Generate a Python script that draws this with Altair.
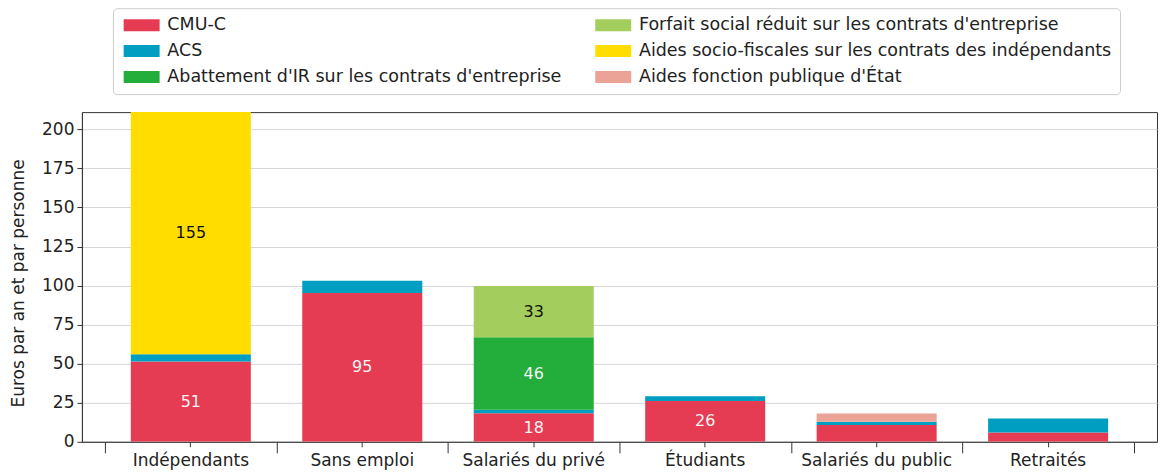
import altair as alt
import pandas as pd

categories = ["Indépendants", "Sans emploi", "Salariés du privé", "Étudiants",
              "Salariés du public", "Retraités"]
series = ["CMU-C", "ACS", "Abattement d'IR sur les contrats d'entreprise",
          "Forfait social réduit sur les contrats d'entreprise",
          "Aides socio-fiscales sur les contrats des indépendants",
          "Aides fonction publique d'État"]
colors = ["#e63c53", "#009fc2", "#23ae3b", "#a3cd5c", "#ffdd00", "#eba397"]

cmu_c = [51.4, 95.3, 18.3, 26.1, 10.7, 6.0]
acs = [4.7, 7.8, 2.2, 3.1, 2.1, 9.0]
abattement_ir = [0, 0, 46.4, 0, 0, 0]
forfait_social = [0, 0, 32.8, 0, 0, 0]
aides_independants = [155.0, 0, 0, 0, 0, 0]
aides_fonction_publique = [0, 0, 0, 0, 5.4, 0]

values = [cmu_c, acs, abattement_ir, forfait_social, aides_independants,
          aides_fonction_publique]

rows = []
for si, (name, vals) in enumerate(zip(series, values)):
    for cat, v in zip(categories, vals):
        if v > 0:
            rows.append({"cat": cat, "series": name, "value": v, "ord": si})
df = pd.DataFrame(rows)

FONT = "DejaVu Sans"
FS = 17
FS_LEG = 17.5
FS_BAR = 16

xscale = alt.Scale(paddingInner=0, paddingOuter=0.135)
yscale = alt.Scale(domain=[0, 211], nice=False, zero=True)

y_axis = alt.Axis(values=list(range(0, 201, 25)), grid=True,
                  tickSize=5, labelPadding=3,
                  titleX=-63, titleY=171, titleAngle=-90,
                  titleAlign="center", titleBaseline="middle")
Y_TITLE = "Euros par an et par personne"

base = alt.Chart(df)

bars = base.mark_bar(width={"band": 0.7}, clip=True).encode(
    x=alt.X("cat:N", sort=categories, scale=xscale, title=None,
            axis=alt.Axis(labelAngle=0, tickSize=5, labelPadding=6,
                          domain=True, grid=False, orient="bottom")),
    y=alt.Y("value:Q", stack="zero", scale=yscale, title=Y_TITLE, axis=y_axis),
    color=alt.Color("series:N",
                    scale=alt.Scale(domain=series, range=colors),
                    legend=alt.Legend(title=None, orient="none", columns=2,
                                      legendX=31, legendY=-104,
                                      symbolType="M-1,-1L5,-1L5,1L-1,1Z",
                                      symbolSize=144, symbolStrokeWidth=0,
                                      labelOffset=29, columnPadding=30,
                                      rowPadding=7, padding=8,
                                      fillColor="white", strokeColor="#cccccc",
                                      cornerRadius=4, labelFontSize=FS_LEG,
                                      labelFont=FONT, labelColor="#222222",
                                      labelLimit=700)),
    order=alt.Order("ord:Q"),
)

labels = base.transform_stack(
    stack="value", groupby=["cat"], sort=[alt.SortField("ord")], as_=["v0", "v1"]
).transform_calculate(
    mid="(datum.v0 + datum.v1) / 2",
    lbl="format(datum.value, '.0f')",
).transform_filter("datum.value >= 15").mark_text(
    font=FONT, fontSize=FS_BAR, baseline="middle", align="center"
).encode(
    x=alt.X("cat:N", sort=categories, scale=xscale, title=None,
            axis=alt.Axis(labels=False, domain=False, grid=False, tickSize=11,
                          tickBand="extent", orient="bottom")),
    y=alt.Y("mid:Q", scale=yscale, title=Y_TITLE, axis=y_axis),
    text="lbl:N",
    color=alt.condition(
        "datum.series == 'CMU-C' || datum.series == \"Abattement d'IR sur les contrats d'entreprise\"",
        alt.value("#f4f4f4"), alt.value("#111111")),
)

chart = alt.layer(bars, labels).resolve_axis(x="independent").properties(
    width=1076, height=330,
    padding={"left": 74, "top": 104, "right": 2, "bottom": 30},
    autosize=alt.AutoSizeParams(type="none"),
).configure_view(
    stroke="#333333", strokeWidth=1
).configure_axis(
    labelFont=FONT, labelFontSize=FS, labelColor="#222222",
    titleFont=FONT, titleFontSize=FS, titleColor="#222222", titleFontWeight="normal",
    tickColor="#333333", domainColor="#333333", gridColor="#d6d6d6",
    tickWidth=1, domainWidth=1, gridWidth=1,
)

chart.save("out.html", embed_options={"renderer": "svg", "actions": False})
